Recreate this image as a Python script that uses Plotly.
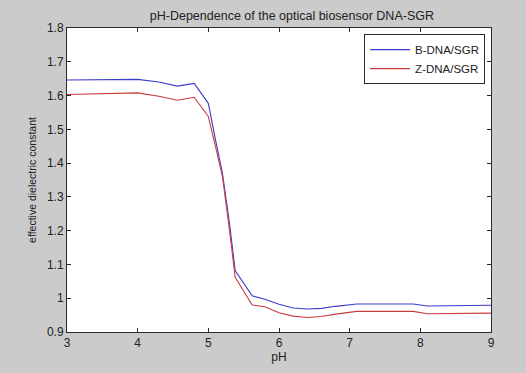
import plotly.graph_objects as go

ph = [3.0, 3.5, 4.0, 4.3, 4.56, 4.8, 5.0, 5.1, 5.2, 5.3, 5.38, 5.62, 5.8, 6.0, 6.2, 6.4, 6.6, 6.8, 7.1, 7.5, 7.9, 8.1, 8.5, 8.95, 9.0]
b_dna = [1.646, 1.647, 1.648, 1.640, 1.628, 1.636, 1.577, 1.47, 1.37, 1.22, 1.082, 1.007, 0.997, 0.982, 0.971, 0.968, 0.970, 0.976, 0.983, 0.983, 0.983, 0.977, 0.977, 0.977, 0.979]
z_dna = [1.603, 1.605, 1.608, 1.598, 1.586, 1.595, 1.538, 1.45, 1.36, 1.20, 1.062, 0.980, 0.975, 0.957, 0.947, 0.943, 0.946, 0.953, 0.961, 0.961, 0.961, 0.954, 0.954, 0.954, 0.956]

x_ticks = [3, 4, 5, 6, 7, 8, 9]
y_ticks = [0.9, 1.0, 1.1, 1.2, 1.3, 1.4, 1.5, 1.6, 1.7, 1.8]
y_ticklabels = ["0.9", "1", "1.1", "1.2", "1.3", "1.4", "1.5", "1.6", "1.7", "1.8"]

font = "Liberation Sans, Arial, sans-serif"

fig = go.Figure()
fig.add_trace(go.Scatter(x=ph, y=b_dna, mode="lines", name="B-DNA/SGR",
                         line=dict(color="rgb(60,60,200)", width=1.1)))
fig.add_trace(go.Scatter(x=ph, y=z_dna, mode="lines", name="Z-DNA/SGR",
                         line=dict(color="rgb(200,60,60)", width=1.1)))

axis_common = dict(showgrid=False, zeroline=False, showline=True, linecolor="#2a2a2a",
                   linewidth=1, mirror="ticks", ticks="inside", ticklen=4,
                   tickcolor="#2a2a2a", tickfont=dict(family=font, size=12, color="#222"))

fig.update_layout(
    width=526, height=373,
    margin=dict(l=67, r=35, t=28, b=41),
    paper_bgcolor="#cbcbcb", plot_bgcolor="white",
    title=dict(text="pH-Dependence of the optical biosensor DNA-SGR",
               font=dict(family=font, size=12.5, color="#222"),
               x=(67 + 491) / 2 / 526, xanchor="center", xref="paper",
               y=1 - 16 / 373, yanchor="middle", yref="container"),
    xaxis=dict(range=[3, 9], tickvals=x_ticks,
               title=dict(text="pH", font=dict(family=font, size=12, color="#222"), standoff=2),
               **axis_common),
    yaxis=dict(range=[0.9, 1.8], tickvals=y_ticks, ticktext=y_ticklabels,
               title=dict(text="effective dielectric constant", font=dict(family=font, size=10.5, color="#222"), standoff=8),
               **axis_common),
    legend=dict(x=0.986, y=0.98, xanchor="right", yanchor="top",
                bgcolor="white", bordercolor="#2a2a2a", borderwidth=1,
                font=dict(family=font, size=11.5, color="#222"),
                itemwidth=40, tracegroupgap=0),
    showlegend=True,
)

fig.write_html("out.html", config={"displayModeBar": False},
               post_script="document.body.style.margin='0';document.body.style.background='#cbcbcb';")
